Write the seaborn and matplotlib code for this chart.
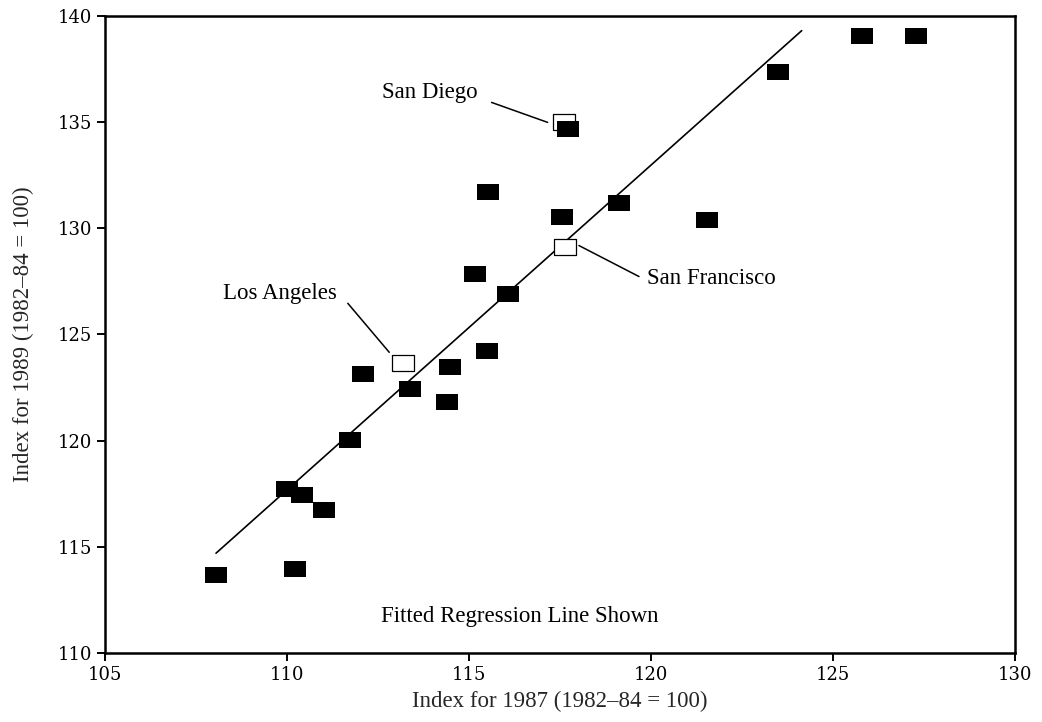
import numpy as np
import pandas as pd
import matplotlib
matplotlib.use("Agg")
import matplotlib.pyplot as plt
import seaborn as sns

# ---- data ----
idx1987 = [108.04, 110.22, 110.01, 110.42, 111.02, 111.73, 112.10, 113.38, 114.48,
           114.39, 115.16, 115.49, 115.53, 116.08, 117.55, 117.72, 119.12, 121.53,
           123.48, 125.79, 127.28]
idx1989 = [113.66, 113.94, 117.71, 117.46, 116.74, 120.03, 123.14, 122.45, 123.46,
           121.82, 127.84, 124.24, 131.73, 126.93, 130.55, 134.68, 131.17, 130.39,
           137.37, 139.06, 139.06]

city_names = ["San Diego", "San Francisco", "Los Angeles"]
city_1987 = [117.61, 117.63, 113.19]
city_1989 = [135.03, 129.14, 123.65]

# label anchor positions (data units) and leader lines
label_x = [112.62, 119.88, 108.25]
label_y = [136.38, 127.66, 126.94]
leader_x0 = [115.62, 118.02, 111.67]
leader_y0 = [135.93, 129.19, 126.47]
leader_x1 = [117.16, 119.67, 112.81]
leader_y1 = [134.99, 127.73, 124.16]

fit_x = [108.05, 124.14]
fit_y = [114.70, 139.31]

x_ticks = [105, 110, 115, 120, 125, 130]
y_ticks = [110, 115, 120, 125, 130, 135, 140]

# ---- style ----
sns.set_theme(style="ticks")
plt.rcParams["font.family"] = ["Liberation Serif", "DejaVu Serif"]

fig = plt.figure(figsize=(10.42, 7.22), dpi=100)
ax = fig.add_axes([105 / 1042, 1 - 653 / 722, (1015 - 105) / 1042, (653 - 16) / 722])

rect = [(-1, -0.72), (1, -0.72), (1, 0.72), (-1, 0.72), (-1, -0.72)]

df = pd.DataFrame({"x": idx1987, "y": idx1989})
cities = pd.DataFrame({"x": city_1987, "y": city_1989, "name": city_names})
fit = pd.DataFrame({"x": fit_x, "y": fit_y})

sns.lineplot(data=fit, x="x", y="y", ax=ax, color="black", lw=1.2,
             sort=False, estimator=None)
sns.scatterplot(data=cities, x="x", y="y", ax=ax, marker=rect, s=250,
                facecolor="white", edgecolor="black", linewidth=0.9, zorder=3)
sns.scatterplot(data=df, x="x", y="y", ax=ax, marker=rect, s=260,
                color="black", edgecolor="black", linewidth=0, zorder=4)

for i in range(len(city_names)):
    ax.plot([leader_x0[i], leader_x1[i]], [leader_y0[i], leader_y1[i]],
            color="black", lw=1.1)
    ax.text(label_x[i], label_y[i], city_names[i], fontsize=16.5,
            ha="left", va="center", color="black")

ax.text(116.4, 111.7, "Fitted Regression Line Shown", fontsize=16.5,
        ha="center", va="center", color="black")

ax.set_xlim(105, 130)
ax.set_ylim(110, 140)
ax.set_xticks(x_ticks)
ax.set_yticks(y_ticks)
ax.set_xticklabels([str(t) for t in x_ticks], family="DejaVu Serif", fontsize=13)
ax.set_yticklabels([str(t) for t in y_ticks], family="DejaVu Serif", fontsize=13)
ax.tick_params(direction="out", length=6, width=1.4, colors="black", pad=3)

for s in ax.spines.values():
    s.set_visible(True)
    s.set_linewidth(1.8)
    s.set_color("black")

ax.set_xlabel("Index for 1987 (1982–84 = 100)", fontsize=16.5, labelpad=5)
ax.set_ylabel("Index for 1989 (1982–84 = 100)", fontsize=16.5, labelpad=17)
ax.grid(False)

fig.savefig("out.png", dpi=100, facecolor="white")
